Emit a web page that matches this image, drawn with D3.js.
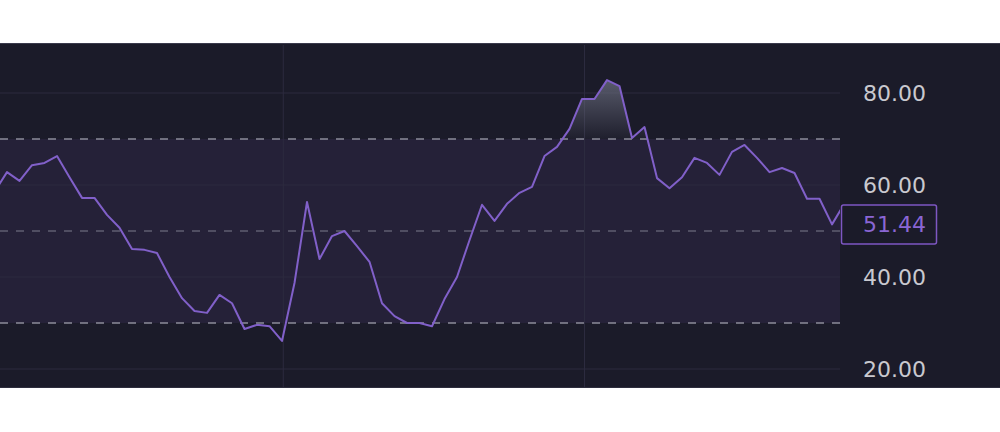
<!DOCTYPE html>
<html>
<head>
<meta charset="utf-8">
<script src="https://cdn.jsdelivr.net/npm/d3@7"></script>
<style>
	html, body { margin: 0; padding: 0; background: #ffffff; }
	#graph { width: 1000px; height: 432px; }
	text { font-family: "DejaVu Sans", sans-serif; }
</style>
</head>
<body>
<div id="graph"></div>
<script>
// rsi values, one per bar (first and last are partly off the plot)
var rsiValues = [58.5, 62.8, 60.9, 64.3, 64.8, 66.3, 61.7, 57.2, 57.2, 53.5, 50.7,
	46.1, 45.9, 45.2, 40.0, 35.4, 32.6, 32.2, 36.1, 34.3, 28.7,
	29.6, 29.3, 26.1, 38.7, 56.3, 43.9, 48.9, 50.0, 46.7, 43.3,
	34.3, 31.5, 30.0, 30.0, 29.3, 35.2, 40.0, 48.0, 55.7, 52.2,
	55.9, 58.3, 59.6, 66.3, 68.3, 72.2, 78.7, 78.7, 82.8, 81.5,
	70.2, 72.6, 61.5, 59.3, 61.7, 65.9, 64.8, 62.2, 67.2, 68.7,
	65.9, 62.8, 63.7, 62.6, 57.0, 57.0, 51.44, 56.0];
var yTicks = [20, 40, 60, 80];
var levels = [70, 50, 30];
var bandLevels = [30, 70];
var timeGrid = [23.1, 47.2];   // vertical grid, in bar units
var lastValue = 51.44;

function drawGraph() {
	var svg = d3.select("#graph").append("svg")
		.attr("width", 1000)
		.attr("height", 432);

	var top = 43, bottom = 388, plotRight = 840;

	var x = d3.scaleLinear().domain([0, rsiValues.length - 1]).range([-5.5, 844.5]);
	var y = d3.scaleLinear().domain([20, 80]).range([369, 93]);

	var defs = svg.append("defs");
	defs.append("clipPath").attr("id", "plotClip")
		.append("rect").attr("x", 0).attr("y", top).attr("width", plotRight).attr("height", bottom - top);
	defs.append("clipPath").attr("id", "obClip")
		.append("rect").attr("x", 0).attr("y", top).attr("width", plotRight).attr("height", y(70) - top);
	var grad = defs.append("linearGradient").attr("id", "obGrad")
		.attr("gradientUnits", "userSpaceOnUse")
		.attr("x1", 0).attr("x2", 0).attr("y1", y(84)).attr("y2", y(70));
	grad.append("stop").attr("offset", 0).attr("stop-color", "#6a6d7e").attr("stop-opacity", 0.85);
	grad.append("stop").attr("offset", 1).attr("stop-color", "#6a6d7e").attr("stop-opacity", 0.05);

	// panel
	svg.append("rect").attr("x", 0).attr("y", top).attr("width", 1000).attr("height", bottom - top)
		.attr("fill", "#1b1b29");
	svg.append("line").attr("x1", 0).attr("x2", 1000).attr("y1", top + 0.5).attr("y2", top + 0.5)
		.attr("stroke", "#3a3a4c");
	svg.append("line").attr("x1", 0).attr("x2", 1000).attr("y1", bottom - 0.5).attr("y2", bottom - 0.5)
		.attr("stroke", "#2e2e3e");

	// band 30..70
	svg.append("rect")
		.attr("x", 0).attr("width", plotRight)
		.attr("y", y(bandLevels[1]))
		.attr("height", y(bandLevels[0]) - y(bandLevels[1]))
		.attr("fill", "#7e57c2").attr("fill-opacity", 0.1);

	// grid
	svg.selectAll(".hgrid").data(yTicks).enter().append("line")
		.attr("class", "hgrid")
		.attr("x1", 0).attr("x2", plotRight)
		.attr("y1", function (d) { return y(d); })
		.attr("y2", function (d) { return y(d); })
		.attr("stroke", "#2c2b3f").attr("stroke-width", 1);
	svg.selectAll(".vgrid").data(timeGrid).enter().append("line")
		.attr("class", "vgrid")
		.attr("x1", function (d) { return x(d); })
		.attr("x2", function (d) { return x(d); })
		.attr("y1", top + 2).attr("y2", bottom - 1)
		.attr("stroke", "#2c2b3f").attr("stroke-width", 1);

	// level lines
	svg.selectAll(".level").data(levels).enter().append("line")
		.attr("class", "level")
		.attr("x1", 0).attr("x2", plotRight)
		.attr("y1", function (d) { return y(d); })
		.attr("y2", function (d) { return y(d); })
		.attr("stroke", function (d) { return d == 50 ? "#5f5e70" : "#8c8c99"; })
		.attr("stroke-width", 1.3)
		.attr("stroke-dasharray", "8,8");

	// overbought fill
	var area = d3.area()
		.x(function (d, i) { return x(i); })
		.y0(y(70))
		.y1(function (d) { return y(d); });
	svg.append("path").datum(rsiValues)
		.attr("clip-path", "url(#obClip)")
		.attr("d", area)
		.attr("fill", "url(#obGrad)");

	// rsi line
	var line = d3.line()
		.x(function (d, i) { return x(i); })
		.y(function (d) { return y(d); });
	svg.append("path").datum(rsiValues)
		.attr("clip-path", "url(#plotClip)")
		.attr("d", line)
		.attr("fill", "none")
		.attr("stroke", "#8160c9")
		.attr("stroke-width", 2)
		.attr("stroke-linejoin", "round");

	// axis labels
	svg.selectAll(".tick").data(yTicks).enter().append("text")
		.attr("class", "tick")
		.attr("x", 926)
		.attr("y", function (d) { return y(d); })
		.attr("dy", "0.36em")
		.attr("text-anchor", "end")
		.attr("font-size", 22)
		.attr("fill", "#c9c9cf")
		.text(function (d) { return d3.format(".2f")(d); });

	// last value label
	svg.append("rect")
		.attr("x", 841.5).attr("y", y(lastValue) - 19.5)
		.attr("width", 95).attr("height", 39)
		.attr("rx", 2)
		.attr("fill", "#1b1b29")
		.attr("stroke", "#7e57c2").attr("stroke-width", 1.5);
	svg.append("text")
		.attr("x", 926)
		.attr("y", y(lastValue))
		.attr("dy", "0.36em")
		.attr("text-anchor", "end")
		.attr("font-size", 22)
		.attr("fill", "#8a66d4")
		.text(d3.format(".2f")(lastValue));
}
drawGraph();
</script>
</body>
</html>
